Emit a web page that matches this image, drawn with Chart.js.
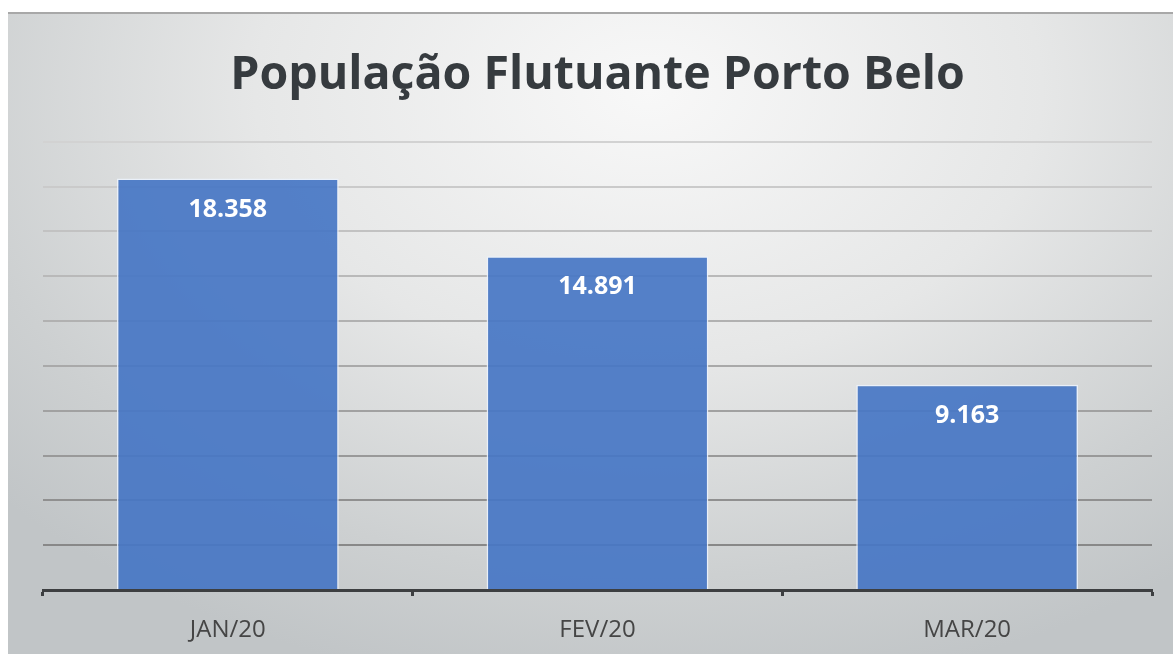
<!DOCTYPE html>
<html>
<head>
<meta charset="utf-8">
<script src="https://cdn.jsdelivr.net/npm/chart.js@4"></script>
<style>
  body { margin: 0; background: #fff; }
  #caixa {
    position: absolute; left: 8px; top: 12px; width: 1165px; height: 642px;
    border-top: 2px solid #a8a8a8; box-sizing: border-box; overflow: hidden;
    background: radial-gradient(ellipse 75% 95% at 55% 12%, #f8f8f8 0%, #e6e7e7 45%, #cdd0d1 80%, #c1c5c7 100%);
  }
  canvas { display: block; }
</style>
</head>
<body>
<div id="caixa"><canvas id="grafica"></canvas></div>
<script>
// Dados do gráfico
const meses = ['JAN/20', 'FEV/20', 'MAR/20'];
const populacao = [18358, 14891, 9163];
const rotulos = ['18.358', '14.891', '9.163'];
const titulo = 'População Flutuante Porto Belo';

// Cor das linhas de grade: mais clara em cima, mais escura embaixo
function corGrade(ctx) {
    var v = ctx.tick ? ctx.tick.value : 0;
    var t = v / 20000;
    var c = Math.round(0x80 + t * (0xd2 - 0x80));
    return 'rgb(' + c + ',' + c + ',' + c + ')';
}

// Plugin simples para escrever os valores dentro das barras
const rotulosBarras = {
    id: 'rotulosBarras',
    afterDatasetsDraw(chart) {
        const ctx = chart.ctx;
        const meta = chart.getDatasetMeta(0);
        ctx.save();
        ctx.fillStyle = '#ffffff';
        ctx.font = 'bold 25px "Open Sans", sans-serif';
        ctx.textAlign = 'center';
        ctx.textBaseline = 'middle';
        meta.data.forEach(function (barra, i) {
            ctx.fillText(rotulos[i], barra.x, barra.y + 31);
        });
        ctx.restore();
    }
};

const canvas = document.getElementById('grafica');
canvas.width = 1165;
canvas.height = 650;

new Chart(canvas.getContext('2d'), {
    type: 'bar',
    data: {
        labels: meses,
        datasets: [{
            data: populacao,
            backgroundColor: 'rgba(70, 118, 196, 0.92)',
            borderColor: 'rgba(235, 242, 252, 0.9)',
            borderWidth: 1.5,
            categoryPercentage: 1,
            barPercentage: 0.6
        }]
    },
    options: {
        responsive: false,
        animation: false,
        layout: { padding: { left: 35, right: 21, top: 0, bottom: 0 } },
        plugins: {
            legend: { display: false },
            tooltip: { enabled: false },
            title: {
                display: true,
                text: titulo,
                color: '#363b3f',
                font: { family: 'Open Sans', size: 46.5, weight: 'bold' },
                padding: { top: 34, bottom: 38 }
            }
        },
        scales: {
            x: {
                border: { display: true, color: '#3d3f41', width: 3 },
                grid: {
                    drawOnChartArea: false,
                    drawTicks: true,
                    tickLength: 6,
                    tickWidth: 3,
                    tickColor: '#3d3f41'
                },
                ticks: {
                    color: '#454545',
                    font: { family: 'Open Sans', size: 24, lineHeight: 1 },
                    padding: 22
                }
            },
            y: {
                min: 0,
                max: 20000,
                border: { display: false },
                ticks: { display: false, stepSize: 2000 },
                grid: { color: corGrade, lineWidth: 2, drawTicks: false }
            }
        }
    },
    plugins: [rotulosBarras]
});
</script>
</body>
</html>
